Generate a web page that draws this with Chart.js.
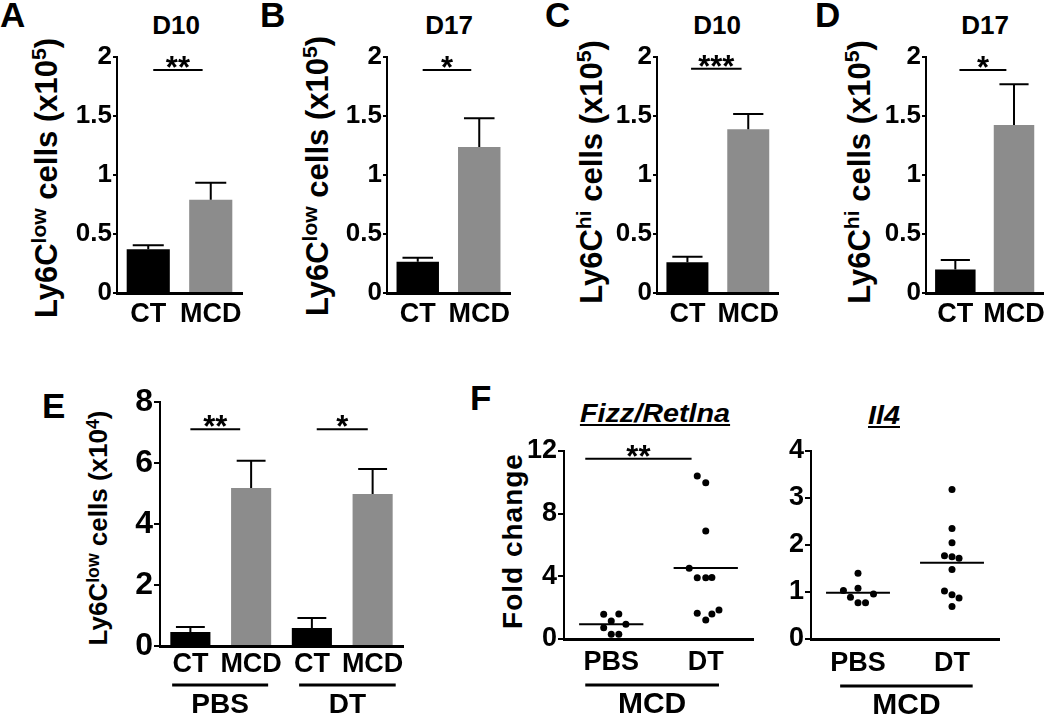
<!DOCTYPE html>
<html lang="en">
<head>
<meta charset="UTF-8">
<title>Ly6C monocytes and Fizz / Il4 expression</title>
<script src="https://cdn.jsdelivr.net/npm/chart.js"></script>
<style>
  body { margin: 0; background: #fff; }
  #fig { position: relative; width: 1050px; height: 722px; overflow: hidden; background: #fff;
         font-family: 'Liberation Sans', Arial, Helvetica, sans-serif; }
  #fig canvas { position: absolute; }
  .t { position: absolute; font-weight: bold; line-height: 1; white-space: nowrap; color: #000; }
  .letter { font-size: 35px; }
  .title { font-size: 26px; transform: translateX(-50%); }
  .gene { font-size: 25px; font-style: italic; text-decoration: underline; text-underline-offset: 2px;
          transform: translateX(-50%) scaleX(1.15); }
  .ytitle { transform: translate(-50%, -50%) rotate(-90deg); }
  .sup { font-size: 0.68em; vertical-align: 0.5em; }
</style>
</head>
<body>
<div id="fig">
  <div class="t letter" style="left:0px;top:-3px">A</div>
  <div class="t letter" style="left:260px;top:-3px">B</div>
  <div class="t letter" style="left:545px;top:-3px">C</div>
  <div class="t letter" style="left:815px;top:-3px">D</div>
  <div class="t letter" style="left:42px;top:388px">E</div>
  <div class="t letter" style="left:470px;top:380px">F</div>

  <div class="t title" style="left:176px;top:12px">D10</div>
  <div class="t title" style="left:449px;top:12px">D17</div>
  <div class="t title" style="left:717px;top:12px">D10</div>
  <div class="t title" style="left:985px;top:12px">D17</div>
  <div class="t gene" style="left:655px;top:401px">Fizz/Retlna</div>
  <div class="t gene" style="left:884px;top:403px">Il4</div>

  <div class="t ytitle" style="left:45px;top:178px;font-size:31px">Ly6C<span class="sup">low</span> cells (x10<span class="sup">5</span>)</div>
  <div class="t ytitle" style="left:316px;top:176px;font-size:31px">Ly6C<span class="sup">low</span> cells (x10<span class="sup">5</span>)</div>
  <div class="t ytitle" style="left:590px;top:172px;font-size:31px">Ly6C<span class="sup">hi</span> cells (x10<span class="sup">5</span>)</div>
  <div class="t ytitle" style="left:858px;top:172px;font-size:31px">Ly6C<span class="sup">hi</span> cells (x10<span class="sup">5</span>)</div>
  <div class="t ytitle" style="left:98px;top:528px;font-size:26px">Ly6C<span class="sup">low</span> cells (x10<span class="sup">4</span>)</div>
  <div class="t ytitle" style="left:513px;top:541px;font-size:28px;letter-spacing:1px">Fold change</div>
</div>

<script>
  // ---- data ----
  const barLabels = ['CT', 'MCD'];
  const ticksAD = [0, 0.5, 1, 1.5, 2];
  const lowD10 = [0.37, 0.79];
  const lowD10Err = [0.034, 0.144];
  const lowD17 = [0.265, 1.237];
  const lowD17Err = [0.034, 0.243];
  const hiD10 = [0.26, 1.387];
  const hiD10Err = [0.048, 0.13];
  const hiD17 = [0.20, 1.424];
  const hiD17Err = [0.08, 0.345];

  const dtLabels = ['CT', 'MCD', 'CT', 'MCD'];
  const ticksE = [0, 2, 4, 6, 8];
  const lowDT = [0.46, 5.18, 0.59, 4.98];
  const lowDTErr = [0.16, 0.89, 0.33, 0.82];

  const treatLabels = ['PBS', 'DT'];
  const ticksFizz = [0, 4, 8, 12];
  const fizzPbs = [1.58, 1.60, 1.15, 0.72, 0.94, 0.30, 0.30];
  const fizzPbsX = [0.92, 1.08, 1.0, 0.92, 1.155, 1.0, 1.08];
  const fizzDt = [10.4, 9.98, 6.89, 4.51, 3.91, 3.91, 3.93, 1.64, 1.21, 1.60, 1.85];
  const fizzDtX = [1.91, 2.0, 2.0, 1.825, 1.91, 2.0, 2.065, 1.91, 2.0, 2.065, 2.14];
  const ticksIl4 = [0, 1, 2, 3, 4];
  const il4Pbs = [1.40, 1.03, 1.08, 0.96, 0.89, 0.77, 0.77];
  const il4PbsX = [1.0, 0.845, 1.0, 1.165, 0.92, 1.0, 1.08];
  const il4Dt = [3.18, 2.35, 2.05, 1.77, 1.75, 1.72, 1.48, 1.02, 0.94, 0.87, 0.69];
  const il4DtX = [2.0, 2.0, 2.0, 1.92, 2.0, 2.075, 2.0, 1.92, 2.0, 2.075, 2.0];

  const FONT = "'Liberation Sans', Arial, Helvetica, sans-serif";
  const BLACK = '#000000', GREY = '#8c8c8c';
  const fig = document.getElementById('fig');

  // error bars, significance bars, mean lines and group labels
  const annot = {
    id: 'annot',
    afterDatasetsDraw(chart, args, o) {
      const ctx = chart.ctx, x = chart.scales.x, y = chart.scales.y, area = chart.chartArea;
      ctx.save();
      ctx.strokeStyle = BLACK;
      ctx.fillStyle = BLACK;
      if (o.errors) {
        const vals = chart.data.datasets[0].data;
        chart.getDatasetMeta(0).data.forEach((bar, i) => {
          const top = y.getPixelForValue(vals[i] + o.errors[i]);
          const half = bar.width * 0.36;
          ctx.lineWidth = 2;
          ctx.beginPath();
          ctx.moveTo(bar.x, bar.y);
          ctx.lineTo(bar.x, top);
          ctx.moveTo(bar.x - half, top);
          ctx.lineTo(bar.x + half, top);
          ctx.stroke();
        });
      }
      if (o.meanLines) {
        chart.data.datasets.forEach(ds => {
          const ys = ds.data.map(p => p.y), xs = ds.data.map(p => p.x);
          const m = ys.reduce((a, b) => a + b, 0) / ys.length;
          const c = Math.round(xs.reduce((a, b) => a + b, 0) / xs.length);
          const py = y.getPixelForValue(m);
          ctx.lineWidth = 2;
          ctx.beginPath();
          ctx.moveTo(x.getPixelForValue(c - 0.34), py);
          ctx.lineTo(x.getPixelForValue(c + 0.34), py);
          ctx.stroke();
        });
      }
      (o.sig || []).forEach(s => {
        const py = y.getPixelForValue(s.y);
        const x0 = x.getPixelForValue(s.from), x1 = x.getPixelForValue(s.to);
        ctx.lineWidth = 2;
        ctx.beginPath();
        ctx.moveTo(x0, py);
        ctx.lineTo(x1, py);
        ctx.stroke();
        ctx.font = 'bold 31px ' + FONT;
        ctx.textAlign = 'center';
        ctx.textBaseline = 'alphabetic';
        ctx.fillText(s.text, (x0 + x1) / 2, py + 8);
      });
      (o.groups || []).forEach(g => {
        const x0 = x.getPixelForValue(g.from), x1 = x.getPixelForValue(g.to);
        ctx.lineWidth = 3;
        ctx.beginPath();
        ctx.moveTo(x0, area.bottom + o.lineDy);
        ctx.lineTo(x1, area.bottom + o.lineDy);
        ctx.stroke();
        ctx.font = 'bold ' + o.groupFont + 'px ' + FONT;
        ctx.textAlign = 'center';
        ctx.textBaseline = 'middle';
        ctx.fillText(g.text, (x0 + x1) / 2, area.bottom + o.textDy);
      });
      ctx.restore();
    }
  };

  function yAxis(ticks, size, yW, tickLen) {
    return {
      min: ticks[0],
      max: ticks[ticks.length - 1],
      afterBuildTicks: s => { s.ticks = ticks.map(v => ({ value: v })); },
      afterFit: s => { s.width = yW; },
      ticks: { color: BLACK, padding: 1, font: { family: FONT, size: size, weight: 'bold' }, callback: v => String(v) },
      grid: { drawOnChartArea: false, drawTicks: true, tickLength: tickLen, color: BLACK, lineWidth: 2 },
      border: { display: true, color: BLACK, width: 2 }
    };
  }

  function xTickStyle(size, pad) {
    return { color: BLACK, padding: pad, maxRotation: 0, autoSkip: false, font: { family: FONT, size: size, weight: 'bold' } };
  }

  function makeChart(box, area, yW, xH, config) {
    const cv = document.createElement('canvas');
    cv.width = box.w;
    cv.height = box.h;
    cv.style.left = box.x + 'px';
    cv.style.top = box.y + 'px';
    fig.appendChild(cv);
    config.options.layout = {
      padding: {
        left: area.l - box.x - yW,
        top: area.t - box.y,
        right: box.x + box.w - area.r,
        bottom: box.y + box.h - area.b - xH
      }
    };
    config.options.responsive = false;
    config.options.animation = false;
    config.options.devicePixelRatio = 1;
    config.options.events = [];
    config.options.plugins.legend = { display: false };
    config.options.plugins.tooltip = { enabled: false };
    config.plugins = [annot];
    return new Chart(cv, config);
  }

  function barPanel(box, area, labels, values, errors, colors, ticks, sig, st) {
    return makeChart(box, area, st.yW, st.xH, {
      type: 'bar',
      data: {
        labels: labels,
        datasets: [{ data: values, backgroundColor: colors, borderWidth: 0,
                     barPercentage: st.barPct, categoryPercentage: 1 }]
      },
      options: {
        scales: {
          x: {
            afterFit: s => { s.height = st.xH; },
            ticks: xTickStyle(st.xSize, st.xPad),
            grid: { display: false, drawTicks: false },
            border: { display: true, color: BLACK, width: 3 }
          },
          y: yAxis(ticks, st.ySize, st.yW, st.tickLen)
        },
        plugins: { annot: Object.assign({ errors: errors, sig: sig }, st.groupOpts || {}) }
      }
    });
  }

  function dotPanel(box, area, groups, ticks, sig, st) {
    return makeChart(box, area, st.yW, st.xH, {
      type: 'scatter',
      data: {
        datasets: groups.map(g => ({
          data: g.y.map((v, i) => ({ x: g.x[i], y: v })),
          pointRadius: 3.5,
          pointBackgroundColor: BLACK,
          pointBorderWidth: 0
        }))
      },
      options: {
        scales: {
          x: {
            type: 'linear', min: 0.5, max: 2.5,
            afterBuildTicks: s => { s.ticks = treatLabels.map((t, i) => ({ value: i + 1 })); },
            afterFit: s => { s.height = st.xH; },
            ticks: Object.assign(xTickStyle(st.xSize, st.xPad), { callback: v => treatLabels[v - 1] }),
            grid: { display: false, drawTicks: false },
            border: { display: true, color: BLACK, width: 3 }
          },
          y: yAxis(ticks, st.ySize, st.yW, st.tickLen)
        },
        plugins: { annot: Object.assign({ meanLines: true, sig: sig }, st.groupOpts) }
      }
    });
  }

  const adStyle = { yW: 50, xH: 40, barPct: 0.69, xSize: 27, xPad: 5, ySize: 26, tickLen: 4 };
  const twoColors = [BLACK, GREY];

  barPanel({ x: 0, y: 0, w: 258, h: 335 }, { l: 117, r: 242, t: 57, b: 293 },
    barLabels, lowD10, lowD10Err, twoColors, ticksAD, [{ from: 0.08, to: 0.87, y: 1.89, text: '**' }], adStyle);
  barPanel({ x: 258, y: 0, w: 262, h: 335 }, { l: 387, r: 510, t: 57, b: 293 },
    barLabels, lowD17, lowD17Err, twoColors, ticksAD, [{ from: 0.08, to: 0.87, y: 1.89, text: '*' }], adStyle);
  barPanel({ x: 520, y: 0, w: 265, h: 335 }, { l: 657, r: 781, t: 57, b: 293 },
    barLabels, hiD10, hiD10Err, twoColors, ticksAD, [{ from: 0.06, to: 0.89, y: 1.90, text: '***' }], adStyle);
  barPanel({ x: 785, y: 0, w: 265, h: 335 }, { l: 926, r: 1049, t: 57, b: 293 },
    barLabels, hiD17, hiD17Err, twoColors, ticksAD, [{ from: 0.07, to: 0.87, y: 1.89, text: '*' }], adStyle);

  barPanel({ x: 0, y: 380, w: 420, h: 342 }, { l: 160, r: 403, t: 402, b: 646 },
    dtLabels, lowDT, lowDTErr, [BLACK, GREY, BLACK, GREY], ticksE,
    [{ from: 0, to: 0.82, y: 7.11, text: '**' }, { from: 2.08, to: 2.92, y: 7.11, text: '*' }],
    { yW: 50, xH: 35, barPct: 0.66, xSize: 27, xPad: 2, ySize: 32, tickLen: 6,
      groupOpts: { lineDy: 39, textDy: 59, groupFont: 28,
                   groups: [{ from: -0.3, to: 1.28, text: 'PBS' }, { from: 1.79, to: 3.38, text: 'DT' }] } });

  dotPanel({ x: 460, y: 380, w: 300, h: 342 }, { l: 564, r: 753, t: 451, b: 639 },
    [{ x: fizzPbsX, y: fizzPbs }, { x: fizzDtX, y: fizzDt }], ticksFizz,
    [{ from: 0.725, to: 1.85, y: 11.5, text: '**' }],
    { yW: 50, xH: 35, xSize: 27, xPad: 7, ySize: 27, tickLen: 6,
      groupOpts: { lineDy: 46, textDy: 66, groupFont: 30, groups: [{ from: 0.725, to: 2.14, text: 'MCD' }] } });

  dotPanel({ x: 760, y: 380, w: 290, h: 342 }, { l: 811, r: 999, t: 451, b: 639 },
    [{ x: il4PbsX, y: il4Pbs }, { x: il4DtX, y: il4Dt }], ticksIl4, [],
    { yW: 40, xH: 35, xSize: 27, xPad: 8, ySize: 27, tickLen: 6,
      groupOpts: { lineDy: 47, textDy: 67, groupFont: 30, groups: [{ from: 0.81, to: 2.22, text: 'MCD' }] } });
</script>
</body>
</html>
